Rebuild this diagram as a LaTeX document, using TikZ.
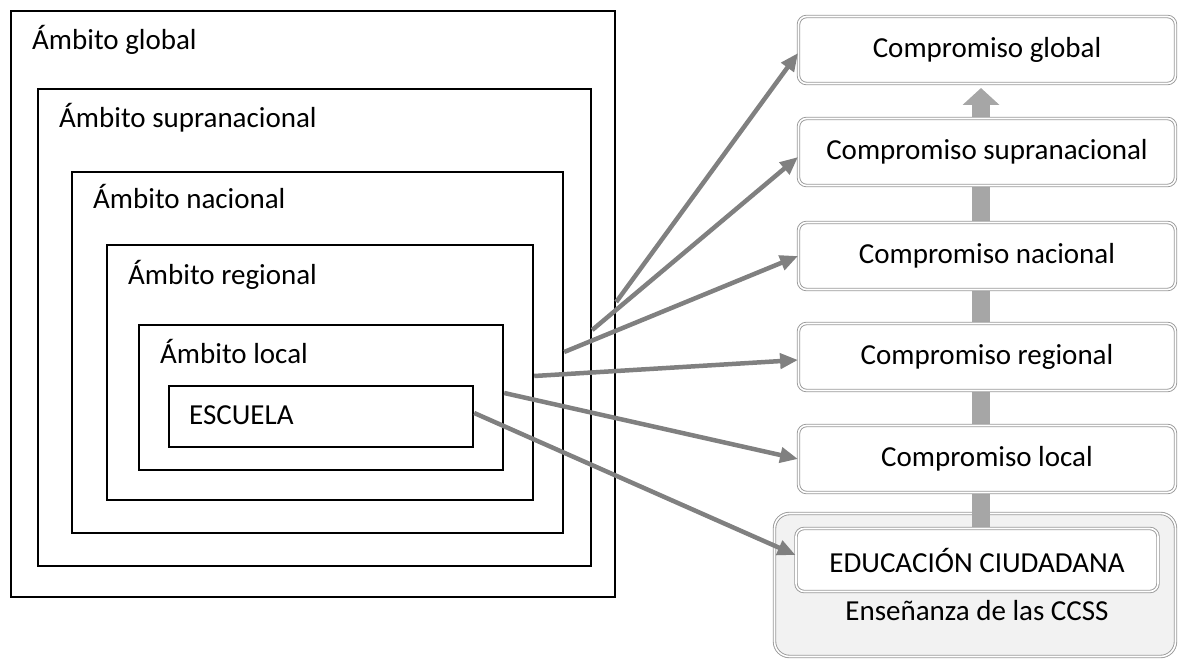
\documentclass[tikz,border=0pt]{standalone}
\usepackage{fontspec}
\setmainfont{Carlito}
\usetikzlibrary{arrows.meta,calc}
\definecolor{conn}{HTML}{808080}
\definecolor{barc}{HTML}{A6A6A6}
\definecolor{boxline}{HTML}{999999}
\definecolor{groupfill}{HTML}{F2F2F2}
\begin{document}
\begin{tikzpicture}[x=1pt,y=-1pt,
  frame/.style={draw=black,line width=2.2pt,anchor=north west,inner sep=0pt},
  lbl/.style={anchor=base west,inner sep=0pt,font=\fontsize{29}{33}\selectfont},
  cbox/.style={draw=boxline,double=white,line width=0.9pt,double distance=1.6pt,
    rounded corners=8pt,fill=white,minimum width=377pt,minimum height=67pt,
    inner sep=0pt,font=\fontsize{29}{33}\selectfont},
  link/.style={draw=conn,line width=4.5pt,-{Triangle[length=18pt,width=15pt]}},
]
\useasboundingbox (0,0) rectangle (1178,660);
% nested frames
\node[frame,minimum width=604pt,minimum height=586pt] (glob) at (10,10) {};
\node[frame,minimum width=553pt,minimum height=477pt] (supra) at (37,88) {};
\node[frame,minimum width=491pt,minimum height=361pt] (nac) at (71,171) {};
\node[frame,minimum width=426pt,minimum height=255pt] (reg) at (106,244) {};
\node[frame,minimum width=364pt,minimum height=145pt] (loc) at (138,324) {};
\node[frame,minimum width=304pt,minimum height=61pt] (esc) at (168,385) {};
\node[lbl] (tglob) at (32,50) {Ámbito global};
\node[lbl] (tsupra) at (59,128) {Ámbito supranacional};
\node[lbl] (tnac) at (93,209) {Ámbito nacional};
\node[lbl] (treg) at (128,285) {Ámbito regional};
\node[lbl] (tloc) at (160,363) {Ámbito local};
\node[lbl] (tesc) at (189,424) {ESCUELA};
% group box
\node[draw=boxline,double=white,line width=0.9pt,double distance=1.6pt,
  rounded corners=15pt,fill=groupfill,minimum width=401pt,minimum height=143pt,
  inner sep=0pt] (group) at (975,585) {};
\node[inner sep=0pt,font=\fontsize{29}{33}\selectfont] (tens) at (977,611) {Enseñanza de las CCSS};
\coordinate (cgpos) at (987,50);
\coordinate (edpos) at (977,560);
% vertical bar with arrow head
\draw[barc,line width=18pt,-{Triangle[length=17pt,width=36pt]}]
  ($(edpos)+(4,-30)$) -- ($(cgpos)+(-6,38)$);
\node[cbox] (cg) at (cgpos) {\raisebox{-3pt}{Compromiso global}};
\node[cbox] (cs) at (987,152) {\raisebox{-3pt}{Compromiso supranacional}};
\node[cbox] (cn) at (987,256) {\raisebox{-3pt}{Compromiso nacional}};
\node[cbox] (cr) at (987,357) {\raisebox{-3pt}{Compromiso regional}};
\node[cbox] (cl) at (987,459) {\raisebox{-3pt}{Compromiso local}};
\node[cbox,minimum width=362pt,minimum height=63pt] (ed) at (edpos) {\raisebox{-3pt}{EDUCACIÓN CIUDADANA}};
% connectors
\coordinate (s1) at (glob.east |- 0,302);
\coordinate (s2) at (supra.east |- 0,330);
\coordinate (s3) at (nac.east |- 0,352);
\coordinate (s4) at (reg.east |- 0,376);
\coordinate (s5) at (loc.east |- 0,393);
\coordinate (s6) at (esc.east |- 0,413);
\draw[link] (s1) -- ($(cg.west)+(0,3)$);
\draw[link] (s2) -- ($(cs.west)+(0,5)$);
\draw[link] (s3) -- (cn.west);
\draw[link] (s4) -- ($(cr.west)+(0,3)$);
\draw[link] (s5) -- (cl.west);
\draw[link] (s6) -- ($(ed.west)+(0,-5)$);
\end{tikzpicture}
\end{document}
